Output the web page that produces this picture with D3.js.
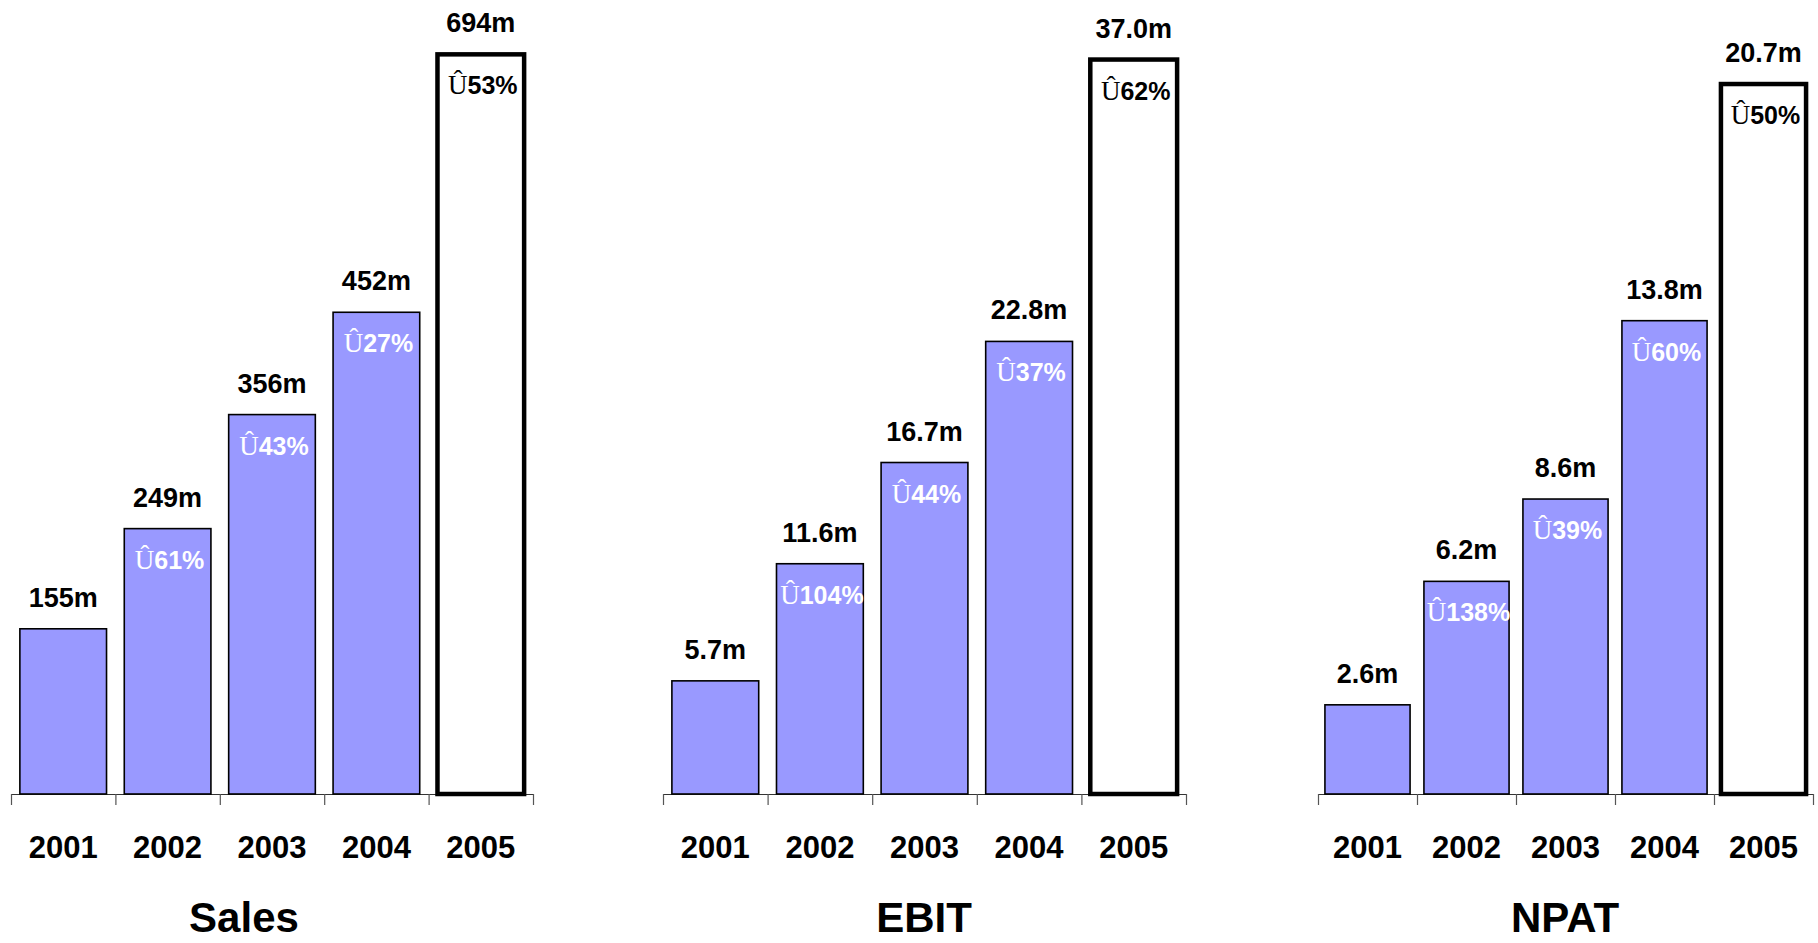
<!DOCTYPE html>
<html>
<head>
<meta charset="utf-8">
<script src="https://cdn.jsdelivr.net/npm/d3@7"></script>
<style>
  body { margin: 0; background: #fff; }
  svg { display: block; }
  text { font-family: "Liberation Sans", Arial, sans-serif; font-weight: bold; }
</style>
</head>
<body>
<div id="chart"></div>
<script>
// data
const years = ["2001", "2002", "2003", "2004", "2005"];
const panelTitles = ["Sales", "EBIT", "NPAT"];
const salesValues = [155, 249, 356, 452, 694];
const ebitValues = [5.7, 11.6, 16.7, 22.8, 37.0];
const npatValues = [2.6, 6.2, 8.6, 13.8, 20.7];
const salesGrowth = [null, 61, 43, 27, 53];
const ebitGrowth = [null, 104, 44, 37, 62];
const npatGrowth = [null, 138, 39, 60, 50];
const valueFormats = [".0f", ".1f", ".1f"];
const forecastYear = "2005";

// layout
const width = 1818, height = 943;
const baseline = 794;
const panels = [
  {title: panelTitles[0], values: salesValues, growth: salesGrowth, fmt: valueFormats[0], x0: 11, x1: 533, yMax: 745, titleX: 244, pad: 0.17},
  {title: panelTitles[1], values: ebitValues, growth: ebitGrowth, fmt: valueFormats[1], x0: 663, x1: 1186, yMax: 40, titleX: 924, pad: 0.17},
  {title: panelTitles[2], values: npatValues, growth: npatGrowth, fmt: valueFormats[2], x0: 1318, x1: 1813, yMax: 23.15, titleX: 1565, pad: 0.14}
];

const svg = d3.select("#chart")
  .append("svg")
  .attr("width", width)
  .attr("height", height);

panels.forEach(p => {
  const g = svg.append("g");

  const x = d3.scaleBand()
    .domain(years)
    .range([p.x0, p.x1])
    .paddingInner(p.pad)
    .paddingOuter(p.pad / 2);

  const y = d3.scaleLinear()
    .domain([0, p.yMax])
    .range([baseline, 0]);

  // axis, ticks sit on the band boundaries
  const edges = d3.scaleLinear().domain([0, years.length]).range([p.x0, p.x1]);
  const axis = g.append("g")
    .attr("transform", `translate(0, ${baseline})`)
    .call(d3.axisBottom(edges).ticks(years.length).tickFormat("").tickSize(11).tickSizeOuter(0));
  axis.select(".domain").attr("stroke", "#333").attr("stroke-width", 1.2);
  axis.selectAll(".tick line").attr("stroke", "#555").attr("stroke-width", 1.2);

  const rows = years.map((yr, i) => ({year: yr, value: p.values[i], growth: p.growth[i]}));

  // bars
  g.selectAll("rect.bar")
    .data(rows)
    .join("rect")
    .attr("class", "bar")
    .attr("x", d => x(d.year))
    .attr("width", x.bandwidth())
    .attr("y", d => y(d.value))
    .attr("height", d => baseline - y(d.value))
    .attr("fill", d => d.year === forecastYear ? "#ffffff" : "#9999ff")
    .attr("stroke", "#000")
    .attr("stroke-width", d => d.year === forecastYear ? 4.5 : 1.6);

  // value labels
  const fmt = d3.format(p.fmt);
  g.selectAll("text.val")
    .data(rows)
    .join("text")
    .attr("class", "val")
    .attr("x", d => x(d.year) + x.bandwidth() / 2)
    .attr("y", d => y(d.value) - 22)
    .attr("text-anchor", "middle")
    .attr("font-size", 27)
    .attr("fill", "#000")
    .text(d => fmt(d.value) + "m");

  // growth labels
  const gl = g.selectAll("text.growth")
    .data(rows.filter(d => d.growth != null))
    .join("text")
    .attr("class", "growth")
    .attr("x", d => x(d.year) + x.bandwidth() / 2 + 2)
    .attr("y", d => y(d.value) + 40)
    .attr("text-anchor", "middle")
    .attr("font-size", 25)
    .attr("fill", d => d.year === forecastYear ? "#000" : "#fff");
  gl.append("tspan")
    .style("font-family", "'Liberation Serif', 'Times New Roman', serif")
    .style("font-weight", "normal")
    .style("font-size", "27px")
    .text("Û");
  gl.append("tspan")
    .text(d => d.growth + "%");

  // year labels
  g.selectAll("text.year")
    .data(rows)
    .join("text")
    .attr("class", "year")
    .attr("x", d => x(d.year) + x.bandwidth() / 2)
    .attr("y", 858)
    .attr("text-anchor", "middle")
    .attr("font-size", 31)
    .attr("fill", "#000")
    .text(d => d.year);

  // panel title
  g.append("text")
    .attr("x", p.titleX)
    .attr("y", 932)
    .attr("text-anchor", "middle")
    .attr("font-size", 42)
    .attr("fill", "#000")
    .text(p.title);
});
</script>
</body>
</html>
